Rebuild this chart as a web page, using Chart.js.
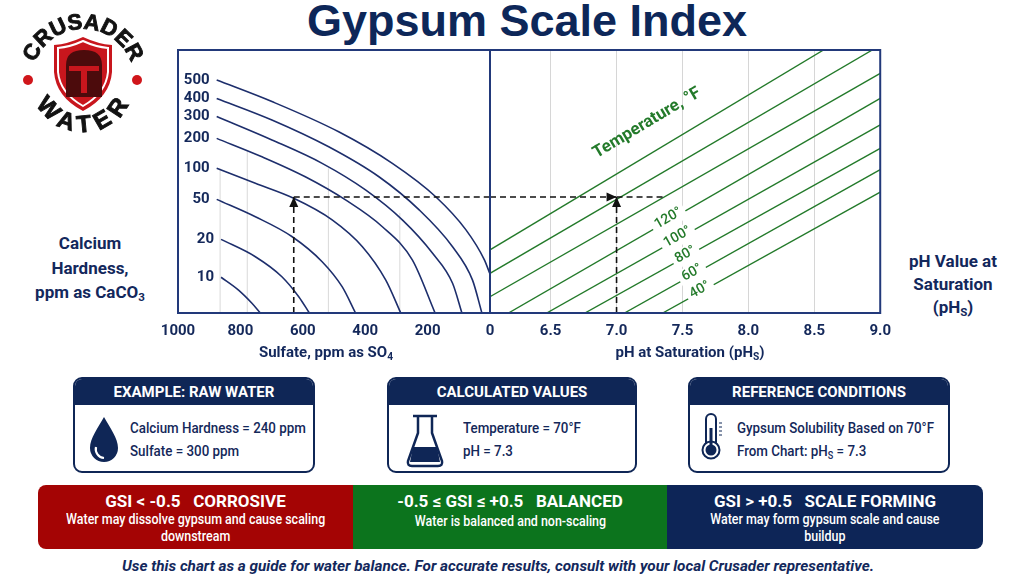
<!DOCTYPE html>
<html>
<head>
<meta charset="utf-8">
<script src="https://cdn.jsdelivr.net/npm/chart.js@4.4.1/dist/chart.umd.min.js"></script>
<style>
  body { margin:0; width:1024px; height:584px; background:#fff; position:relative; overflow:hidden;
         font-family:Roboto, "Liberation Sans", sans-serif; color:#13285c; }
  .abs { position:absolute; white-space:nowrap; }
  .ctr { transform:translateX(-50%); text-align:center; }
  .title { left:527px; top:-2px; font:700 45px "Liberation Sans", Arial, sans-serif; line-height:1; color:#0d2759; }
  .side { font-weight:700; font-size:17px; }
  .axT { top:343px; font-weight:700; font-size:15px; line-height:18px; }
  sub { font-size:0.68em; vertical-align:-0.28em; line-height:0; }
  canvas { position:absolute; }
  .box { position:absolute; top:377px; height:96px; border:2px solid #0f2656; border-radius:9px;
         background:#fff; box-sizing:border-box; overflow:hidden; }
  .box .hd { height:26px; background:#0f2656; color:#fff; font-weight:700; font-size:15px;
             line-height:26px; text-align:center; }
  .bt { font-weight:500; font-size:15.5px; line-height:20px; color:#14285a;
        transform:scaleX(0.86); transform-origin:0 0; }
  .band { position:absolute; left:38px; top:485px; width:945px; height:64px; border-radius:8px;
          overflow:hidden; display:flex; color:#fff; }
  .band div.sec { height:64px; text-align:center; padding-top:6px; box-sizing:border-box; }
  .band .h { font-weight:700; font-size:17px; line-height:20px; white-space:pre; }
  .band .s { display:inline-block; font-weight:500; font-size:14px; line-height:17px;
             transform:scaleX(0.89); }
  .foot { left:498px; top:557px; font-style:italic; font-weight:700; font-size:15.3px; line-height:18px; }
</style>
</head>
<body>

<div class="abs ctr title">Gypsum Scale Index</div>

<div class="abs ctr side" style="left:90px; top:231px; line-height:24.5px;">Calcium<br>Hardness,<br>ppm as CaCO<sub>3</sub></div>
<div class="abs ctr side" style="left:953px; top:250px; line-height:23px;">pH Value at<br>Saturation<br>(pH<sub>S</sub>)</div>

<canvas id="leftChart" width="370" height="305" style="left:130px; top:40px;"></canvas>
<canvas id="rightChart" width="430" height="305" style="left:470px; top:40px;"></canvas>

<div class="abs ctr axT" style="left:326px;">Sulfate, ppm as SO<sub>4</sub></div>
<div class="abs ctr axT" style="left:690px;">pH at Saturation (pH<sub>S</sub>)</div>

<div class="box" style="left:73px; width:242px;"><div class="hd">EXAMPLE: RAW WATER</div></div>
<div class="box" style="left:387px; width:250px;"><div class="hd">CALCULATED VALUES</div></div>
<div class="box" style="left:688px; width:262px;"><div class="hd">REFERENCE CONDITIONS</div></div>

<div class="abs bt" style="left:130px; top:418px;">Calcium Hardness = 240 ppm</div>
<div class="abs bt" style="left:130px; top:441px;">Sulfate = 300 ppm</div>
<div class="abs bt" style="left:463px; top:418px;">Temperature = 70°F</div>
<div class="abs bt" style="left:463px; top:441px;">pH = 7.3</div>
<div class="abs bt" style="left:737px; top:418px;">Gypsum Solubility Based on 70°F</div>
<div class="abs bt" style="left:737px; top:441px;">From Chart: pH<sub>S</sub> = 7.3</div>

<div class="band">
  <div class="sec" style="width:315px; background:#a40404;">
    <div class="h">GSI &lt; -0.5   CORROSIVE</div>
    <div class="s">Water may dissolve gypsum and cause scaling<br>downstream</div>
  </div>
  <div class="sec" style="width:314px; background:#0c741d;">
    <div class="h">-0.5 ≤ GSI ≤ +0.5   BALANCED</div>
    <div class="s">Water is balanced and non-scaling</div>
  </div>
  <div class="sec" style="width:316px; background:#0d2557;">
    <div class="h">GSI &gt; +0.5   SCALE FORMING</div>
    <div class="s">Water may form gypsum scale and cause<br>buildup</div>
  </div>
</div>

<div class="abs ctr foot">Use this chart as a guide for water balance. For accurate results, consult with your local Crusader representative.</div>

<svg class="abs" width="1024" height="584" style="left:0; top:0; pointer-events:none;">
  <defs>
    <path id="arcTop" d="M 32 80 A 51 51 0 0 1 134 80"/>
    <path id="arcBot" d="M 31 80 A 52 52 0 0 0 135 80"/>
  </defs>
  <!-- logo -->
  <g font-family="Liberation Sans, Arial, sans-serif" font-weight="700" fill="#121212" stroke="#121212" stroke-width="0.9">
    <text font-size="22" letter-spacing="0"><textPath href="#arcTop" startOffset="50%" text-anchor="middle">CRUSADER</textPath></text>
    <text font-size="24" letter-spacing="7"><textPath href="#arcBot" startOffset="52%" text-anchor="middle">WATER</textPath></text>
  </g>
  <circle cx="28" cy="80" r="5" fill="#d0161b"/>
  <circle cx="137" cy="80" r="5" fill="#d0161b"/>
  <path d="M83,37 Q98,44 112,45 L112,72 Q110,97 83,111 Q56,97 54,72 L54,45 Q68,44 83,37 Z" fill="#c8161d"/>
  <path d="M83,41 Q96,47 108,48 L108,72 Q106,93 83,106 Q60,93 58,72 L58,48 Q70,47 83,41 Z" fill="none" stroke="#fff" stroke-width="2"/>
  <path d="M66,97 L66,65 Q66,50 84,50 Q102,50 102,65 L102,97 Z" fill="#4c0b0c"/>
  <path d="M69,66 L99,66 L99,71 L87,71 L87,93 L81,93 L81,71 L69,71 Z" fill="#c8161d"/>
  <!-- drop icon -->
  <path d="M104,417 C98,428 90,438 90,448 A14,14 0 0,0 118,448 C118,438 110,428 104,417 Z" fill="#0f2656"/>
  <path d="M96,447 A9,9 0 0,0 104,458" fill="none" stroke="#fff" stroke-width="2.2"/>
  <!-- flask icon -->
  <path d="M413,416 L437,416" stroke="#0f2656" stroke-width="2.5" fill="none"/>
  <path d="M418,416 L418,433 L408,461 Q407,466 412,466 L438,466 Q443,466 442,461 L432,433 L432,416" stroke="#0f2656" stroke-width="2.5" fill="none"/>
  <path d="M413,447 L437,447 L440,462 L410,462 Z" fill="#0f2656"/>
  <!-- thermometer icon -->
  <path d="M706,446 L706,419 A5,5 0 0,1 716,419 L716,446" stroke="#0f2656" stroke-width="2" fill="none"/>
  <circle cx="711" cy="450" r="8.5" stroke="#0f2656" stroke-width="2" fill="#fff"/>
  <circle cx="711" cy="450" r="5.5" fill="#0f2656"/>
  <path d="M711,428 L711,448" stroke="#0f2656" stroke-width="3"/>
  <path d="M719,423 L722,423 M719,427 L722,427 M719,431 L722,431 M719,435 L722,435" stroke="#0f2656" stroke-width="1.2"/>
</svg>

<script>
/* ---- Chart values ---- */
const sulfateTicks = [0, 200, 400, 600, 800, 1000];
const phTicks = [6.5, 7.0, 7.5, 8.0, 8.5, 9.0];

// calcium hardness curves (left panel): sulfate vs. chart level (0 = bottom, 100 = top)
const hardnessLabels = ["10", "20", "50", "100", "200", "300", "400", "500"];
const curveSulfate = [
  [862, 806, 763, 736],
  [862, 752, 667, 613, 579],
  [876, 752, 634, 538, 474, 431],
  [876, 752, 629, 506, 409, 334, 286],
  [876, 731, 592, 463, 345, 249, 176],
  [876, 699, 538, 399, 281, 184, 120, 90],
  [876, 699, 517, 356, 227, 120, 56, 26],
  [876, 699, 485, 313, 174, 77, 18, 0]
];
const curveLevel = [
  [13.6, 8.7, 3.7, 0],
  [28.0, 21.4, 13.8, 6.2, 0],
  [43.2, 36.6, 29.0, 19.5, 10.0, 0],
  [55.0, 49.3, 43.6, 35.4, 25.2, 12.5, 0],
  [66.4, 59.4, 51.8, 43.0, 32.8, 20.2, 0],
  [74.7, 65.8, 56.9, 46.8, 35.4, 22.7, 11.3, 0],
  [81.6, 73.4, 63.2, 51.8, 39.2, 25.2, 12.5, 0],
  [88.6, 80.4, 68.9, 56.9, 44.2, 31.6, 20.2, 14.8]
];

// partial gridlines in the left panel
const gridSulfate = [865, 778, 518, 289];
const gridTop = [55, 61.5, 55, 38];

// temperature lines (right panel): pH vs. chart level, start and end
const tempLinePh = [[6.04, 8.57], [6.04, 8.94], [6.04, 9.0], [6.18, 9.0], [6.47, 9.0], [6.76, 9.0], [7.06, 9.0], [7.35, 9.0]];
const tempLineLevel = [[24.0, 100], [15.1, 100], [6.2, 91.1], [0, 81.6], [0, 71.5], [0, 62.6], [0, 54.5], [0, 46.0]];
const tempLabels = ["120°", "100°", "80°", "60°", "40°"];
const tempLabelLine = [3, 4, 5, 6, 7];
const tempLabelPh = [7.40, 7.47, 7.53, 7.58, 7.64];

// worked example guide
const guideSulfate = 629;
const guideLevel = 44.1;
const guidePh = 7.0;
const guidePhEnd = 7.36;


/* ---- Styles ---- */
const navy = "#1d2e6c";
const frameColor = "#22397a";
const tickColor = "#14285a";
const green = "#237a2a";

Chart.defaults.font.family = "Roboto, 'Liberation Sans', sans-serif";

const framePlugin = {
  id: "frame",
  afterDatasetsDraw(chart) {
    const { left, top, right, bottom } = chart.chartArea;
    const ctx = chart.ctx;
    ctx.save();
    ctx.strokeStyle = frameColor;
    ctx.lineWidth = 2;
    ctx.strokeRect(left, top, right - left, bottom - top);
    ctx.restore();
  }
};

const arrowPlugin = {
  id: "arrows",
  afterDatasetsDraw(chart) {
    const ctx = chart.ctx;
    chart.data.datasets.forEach((ds, i) => {
      if (!ds.arrowEnd) return;
      const pts = chart.getDatasetMeta(i).data;
      const a = pts[pts.length - 2], b = pts[pts.length - 1];
      const ang = Math.atan2(b.y - a.y, b.x - a.x);
      ctx.save();
      ctx.translate(b.x, b.y);
      ctx.rotate(ang);
      ctx.beginPath();
      ctx.moveTo(0, 0);
      ctx.lineTo(-10, -4.5);
      ctx.lineTo(-10, 4.5);
      ctx.closePath();
      ctx.fillStyle = "#111";
      ctx.fill();
      ctx.restore();
    });
  }
};

const curveLabelPlugin = {
  id: "curveLabels",
  afterDatasetsDraw(chart) {
    const ctx = chart.ctx;
    ctx.save();
    ctx.font = "700 15px Roboto, 'Liberation Sans', sans-serif";
    ctx.fillStyle = tickColor;
    ctx.textAlign = "right";
    ctx.textBaseline = "middle";
    chart.data.datasets.forEach((ds, i) => {
      if (!ds.curveLabel) return;
      const p = chart.getDatasetMeta(i).data[0];
      ctx.fillText(ds.curveLabel, p.x - 7, p.y);
    });
    ctx.restore();
  }
};

const tempLabelPlugin = {
  id: "tempLabels",
  afterDatasetsDraw(chart) {
    const xs = chart.scales.x, ys = chart.scales.y, ctx = chart.ctx;
    const lineAngle = li => {
      const x0 = xs.getPixelForValue(tempLinePh[li][0]), y0 = ys.getPixelForValue(tempLineLevel[li][0]);
      const x1 = xs.getPixelForValue(tempLinePh[li][1]), y1 = ys.getPixelForValue(tempLineLevel[li][1]);
      return Math.atan2(y1 - y0, x1 - x0);
    };
    const levelAt = (li, ph) => {
      const [p0, p1] = tempLinePh[li], [v0, v1] = tempLineLevel[li];
      return v0 + (v1 - v0) * (ph - p0) / (p1 - p0);
    };

    ctx.save();
    ctx.textAlign = "center";
    ctx.textBaseline = "middle";
    tempLabels.forEach((t, k) => {
      const li = tempLabelLine[k], ph = tempLabelPh[k];
      ctx.save();
      ctx.translate(xs.getPixelForValue(ph), ys.getPixelForValue(levelAt(li, ph)));
      ctx.rotate(lineAngle(li));
      ctx.font = "500 14px Roboto, 'Liberation Sans', sans-serif";
      const w = ctx.measureText(t).width;
      ctx.fillStyle = "#fff";
      ctx.fillRect(-w / 2 - 4, -10, w + 8, 17);
      ctx.fillStyle = green;
      ctx.fillText(t, 0, -2);
      ctx.restore();
    });

    // axis note along the top line
    ctx.translate(xs.getPixelForValue(7.34), ys.getPixelForValue(levelAt(0, 7.34)));
    ctx.rotate(lineAngle(0));
    ctx.font = "700 17px Roboto, 'Liberation Sans', sans-serif";
    ctx.fillStyle = green;
    ctx.fillText("Temperature, °F", 0, -28);
    ctx.restore();
  }
};

const lineSet = (points, extra) => Object.assign({
  data: points,
  showLine: true,
  pointRadius: 0,
  fill: false
}, extra);

const dashed = { borderColor: "#111", borderWidth: 1.6, borderDash: [6, 4], order: 0 };


/* ---- Left panel: sulfate vs. calcium hardness ---- */
function initLeftChart() {
  const gridSets = gridSulfate.map((s, i) => lineSet(
    [{ x: s, y: 0 }, { x: s, y: gridTop[i] }],
    { borderColor: "#d9d9d9", borderWidth: 1, order: 2 }
  ));

  const curveSets = hardnessLabels.map((lab, i) => lineSet(
    curveSulfate[i].map((s, j) => ({ x: s, y: curveLevel[i][j] })),
    { curveLabel: lab, borderColor: navy, borderWidth: 1.6, cubicInterpolationMode: "monotone", order: 1 }
  ));

  const guideSets = [
    lineSet([{ x: guideSulfate, y: 0 }, { x: guideSulfate, y: guideLevel }], Object.assign({ arrowEnd: true }, dashed)),
    lineSet([{ x: guideSulfate, y: guideLevel }, { x: 0, y: guideLevel }], dashed)
  ];

  new Chart(document.getElementById("leftChart"), {
    type: "scatter",
    data: { datasets: [...gridSets, ...curveSets, ...guideSets] },
    options: {
      responsive: false,
      animation: false,
      layout: { padding: { left: 48, right: 10, top: 10, bottom: 0 } },
      plugins: { legend: { display: false }, tooltip: { enabled: false } },
      scales: {
        x: {
          type: "linear", reverse: true, min: 0, max: 1000,
          afterBuildTicks: s => { s.ticks = sulfateTicks.map(v => ({ value: v })); },
          afterFit: s => { s.height = 32; },
          grid: { display: false, drawTicks: false },
          border: { display: false },
          ticks: {
            padding: 9, color: tickColor, autoSkip: false, maxRotation: 0,
            font: { size: 15, weight: "bold" },
            callback: v => String(v)
          }
        },
        y: { type: "linear", min: 0, max: 100, display: false }
      }
    },
    plugins: [framePlugin, arrowPlugin, curveLabelPlugin]
  });
}


/* ---- Right panel: temperature lines vs. pHs ---- */
function initRightChart() {
  const tempSets = tempLinePh.map((ph, i) => lineSet(
    [{ x: ph[0], y: tempLineLevel[i][0] }, { x: ph[1], y: tempLineLevel[i][1] }],
    { borderColor: green, borderWidth: 1.4, order: 1 }
  ));

  const guideSets = [
    lineSet([{ x: 6.04, y: guideLevel }, { x: guidePh, y: guideLevel }], Object.assign({ arrowEnd: true }, dashed)),
    lineSet([{ x: guidePh, y: guideLevel }, { x: guidePhEnd, y: guideLevel }], dashed),
    lineSet([{ x: guidePh, y: 0 }, { x: guidePh, y: guideLevel }], Object.assign({ arrowEnd: true }, dashed))
  ];

  new Chart(document.getElementById("rightChart"), {
    type: "scatter",
    data: { datasets: [...tempSets, ...guideSets] },
    options: {
      responsive: false,
      animation: false,
      layout: { padding: { left: 20, right: 16, top: 10, bottom: 0 } },
      plugins: { legend: { display: false }, tooltip: { enabled: false } },
      scales: {
        x: {
          type: "linear", min: 6.04, max: 9.0,
          afterBuildTicks: s => { s.ticks = phTicks.map(v => ({ value: v })); },
          afterFit: s => { s.height = 32; },
          grid: { display: true, drawTicks: false, color: "#d6d6d6", lineWidth: 1 },
          border: { display: false },
          ticks: {
            padding: 9, color: tickColor, autoSkip: false, maxRotation: 0,
            font: { size: 15, weight: "bold" },
            callback: v => v.toFixed(1)
          }
        },
        y: { type: "linear", min: 0, max: 100, display: false }
      }
    },
    plugins: [framePlugin, arrowPlugin, tempLabelPlugin]
  });
}

initLeftChart();
initRightChart();
</script>
</body>
</html>
